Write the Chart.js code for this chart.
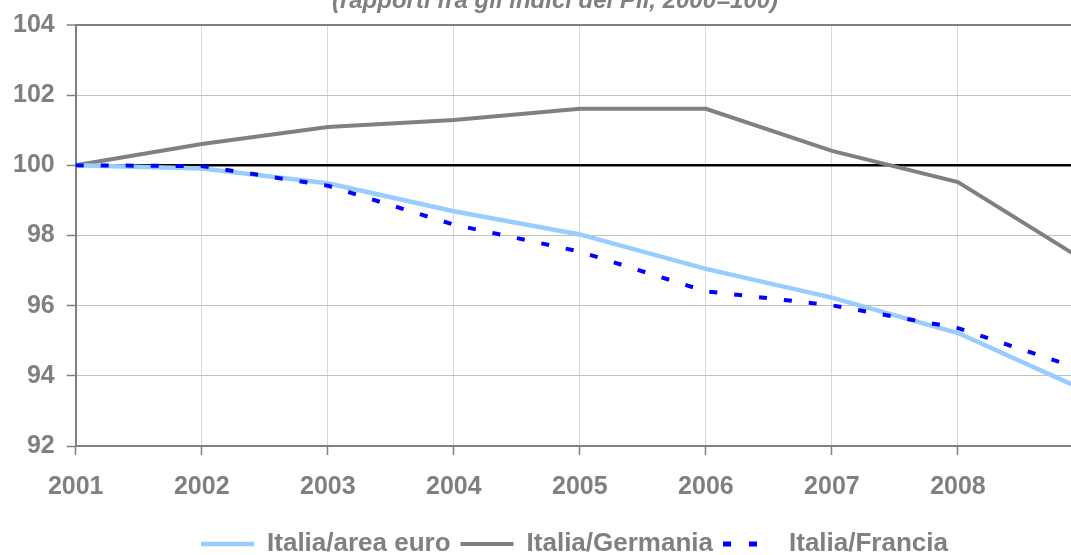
<!DOCTYPE html>
<html>
<head>
<meta charset="utf-8">
<script src="https://cdn.jsdelivr.net/npm/chart.js@4.4.1/dist/chart.umd.min.js"></script>
<style>
  html, body { margin: 0; padding: 0; background: #ffffff; }
  #frame { position: relative; width: 1071px; height: 555px; overflow: hidden; background: #ffffff; }
  #chart { position: absolute; left: 0; top: -13px; }
</style>
</head>
<body>
<div id="frame"><canvas id="chart" width="1149" height="580"></canvas></div>
<script>
// ---- data ----
const years = ['2001', '2002', '2003', '2004', '2005', '2006', '2007', '2008', '2009'];
const tickLabels = ['2001', '2002', '2003', '2004', '2005', '2006', '2007', '2008', ''];
const italiaAreaEuro = [100, 99.91, 99.49, 98.69, 98.03, 97.05, 96.23, 95.22, 93.60];
const italiaGermania = [100, 100.61, 101.09, 101.29, 101.61, 101.61, 100.41, 99.52, 97.29];
const italiaFrancia  = [100, 99.98, 99.42, 98.31, 97.54, 96.41, 96.01, 95.36, 94.16];
const baseLine100    = [100, 100, 100, 100, 100, 100, 100, 100, 100];
const yTicks = [92, 94, 96, 98, 100, 102, 104];
const titleText = '(rapporti fra gli indici del Pil, 2000=100)';

const FONT = "'Liberation Sans', Arial, sans-serif";
const GREY = '#808080';
const DASH = [8, 17];

// legend sample for the dashed series (a styled glyph, not data)
function dashedSample(color) {
  const c = document.createElement('canvas');
  c.width = 53; c.height = 8;
  const g = c.getContext('2d');
  g.strokeStyle = color; g.lineWidth = 5; g.lineCap = 'butt';
  g.setLineDash([8, 18]);
  g.beginPath(); g.moveTo(0, 4); g.lineTo(52, 4); g.stroke();
  return c;
}

const shiftBlocks = {
  id: 'shiftBlocks',
  afterLayout(chart) {
    if (chart.titleBlock) chart.titleBlock.left += 25;
    if (chart.legend) chart.legend.left += 64;
  }
};

new Chart(document.getElementById('chart'), {
  type: 'line',
  data: {
    labels: years,
    datasets: [
      { label: 'Italia/area euro', data: italiaAreaEuro, borderColor: '#99CCFF', backgroundColor: '#99CCFF',
        borderWidth: 4.5, pointRadius: 0, pointStyle: 'line', tension: 0, order: 2 },
      { label: 'Italia/Germania', data: italiaGermania, borderColor: '#808080', backgroundColor: '#808080',
        borderWidth: 4, pointRadius: 0, pointStyle: 'line', tension: 0, order: 3 },
      { label: 'Italia/Francia', data: italiaFrancia, borderColor: '#0000FF', backgroundColor: '#0000FF',
        borderWidth: 4, borderDash: DASH, borderCapStyle: 'butt', pointRadius: 0,
        pointStyle: dashedSample('#0000FF'), tension: 0, order: 1 },
      { label: 'base', data: baseLine100, borderColor: '#000000', backgroundColor: '#000000',
        borderWidth: 2.5, pointRadius: 0, tension: 0, order: 4 }
    ]
  },
  options: {
    responsive: false,
    animation: false,
    layout: { padding: { left: 1, right: 65, top: 0, bottom: 0 } },
    plugins: {
      tooltip: { enabled: false },
      title: {
        display: true, text: titleText, color: GREY,
        font: { family: FONT, size: 24, weight: 'bold', style: 'italic' },
        padding: { top: 0, bottom: 9.2 }
      },
      legend: {
        position: 'bottom',
        labels: {
          filter: (item) => item.text !== 'base',
          sort: (a, b) => a.datasetIndex - b.datasetIndex,
          usePointStyle: true, pointStyleWidth: 53,
          color: GREY, padding: 10,
          font: { family: FONT, size: 26, weight: 'bold' }
        }
      }
    },
    scales: {
      x: {
        type: 'category',
        offset: false,
        grid: { color: '#d9d9d9', lineWidth: 1, tickColor: GREY, tickLength: 9, tickWidth: 1.5 },
        border: { display: true, color: GREY, width: 2 },
        ticks: {
          color: GREY, padding: 17, maxRotation: 0, autoSkip: false,
          font: { family: FONT, size: 25, weight: 'bold' },
          callback: (v, i) => tickLabels[i]
        },
        afterFit: (scale) => { scale.height += 2; }
      },
      y: {
        min: 92, max: 104,
        afterBuildTicks: (scale) => { scale.ticks = yTicks.map(v => ({ value: v })); },
        grid: {
          color: (ctx) => (ctx.tick && ctx.tick.value === 104) ? GREY : '#c0c0c0',
          lineWidth: (ctx) => (ctx.tick && ctx.tick.value === 104) ? 2 : 1,
          tickColor: GREY, tickLength: 9, tickWidth: 1.5
        },
        border: { display: true, color: GREY, width: 2 },
        ticks: {
          color: GREY, padding: 12,
          font: { family: FONT, size: 25, weight: 'bold' }
        }
      }
    }
  },
  plugins: [shiftBlocks]
});
</script>
</body>
</html>
